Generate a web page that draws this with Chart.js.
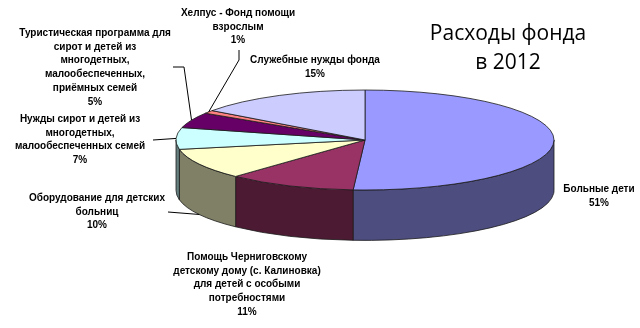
<!DOCTYPE html>
<html lang="ru">
<head>
<meta charset="utf-8">
<title>Расходы фонда в 2012</title>
<script src="https://cdn.jsdelivr.net/npm/chart.js@4.4.1/dist/chart.umd.min.js"></script>
<style>
    html, body { margin: 0; padding: 0; background: #fff; }
    #wrap { width: 640px; height: 328px; }
</style>
</head>
<body>
<div id="wrap"><canvas id="chart" width="640" height="328"></canvas></div>
<script>
// Данные диаграммы
const categories = [
    'Больные дети',
    'Помощь Черниговскому детскому дому (с. Калиновка) для детей с особыми потребностями',
    'Оборудование для детских больниц',
    'Нужды сирот и детей из многодетных, малообеспеченных семей',
    'Туристическая программа для сирот и детей из многодетных, малообеспеченных, приёмных семей',
    'Хелпус - Фонд помощи взрослым',
    'Служебные нужды фонда'
];
const values = [51, 11, 10, 7, 5, 1, 15];
const labelLines = [
    ['Больные дети'],
    ['Помощь Черниговскому', 'детскому дому (с. Калиновка)', 'для детей с особыми', 'потребностями'],
    ['Оборудование для детских', 'больниц'],
    ['Нужды сирот и детей из', 'многодетных,', 'малообеспеченных семей'],
    ['Туристическая программа для', 'сирот и детей из', 'многодетных,', 'малообеспеченных,', 'приёмных семей'],
    ['Хелпус - Фонд помощи', 'взрослым'],
    ['Служебные нужды фонда']
];
const titleLines = ['Расходы фонда', 'в 2012'];

// Цвета: верх и боковая грань
const topColors = ['#9999ff', '#993366', '#ffffcc', '#ccffff', '#660066', '#ff8080', '#ccccff'];
const sideColors = ['#4d4d80', '#4d1a33', '#808066', '#668080', '#330033', '#804040', '#666680'];

// Положение подписей (центр первой строки) и выноски
const labelLayout = [
    { x: 599, y: 189, line: null },
    { x: 247, y: 257, line: null },
    { x: 97, y: 198, line: [[168, 212]], depth: true },
    { x: 80, y: 119, line: [[153, 140]] },
    { x: 95, y: 33, line: [[173, 67], [184, 67]] },
    { x: 238, y: 13, line: [[239, 50], [239, 60]] },
    { x: 315, y: 60, line: null }
];

const SCALE_X = 1.35;  // растяжение эллипса по горизонтали
const TILT = 0.357;    // сжатие по вертикали
const DEPTH = 0.36;    // высота цилиндра относительно радиуса

function geometry(meta) {
    const arc = meta.data[0];
    const r = arc.outerRadius;
    return { cx: arc.x, cy: arc.y, rx: r * SCALE_X, ry: r * TILT, depth: r * DEPTH };
}

function pt(g, a, dy) {
    return [g.cx + g.rx * Math.cos(a), g.cy + g.ry * Math.sin(a) + (dy || 0)];
}

// Плагин псевдо-3D круговой диаграммы
const pie3d = {
    id: 'pie3d',
    beforeDatasetsDraw(chart) {
        const ctx = chart.ctx;
        const meta = chart.getDatasetMeta(0);
        const g = geometry(meta);
        ctx.save();
        ctx.lineWidth = 0.8;
        ctx.strokeStyle = '#1a1a1a';
        ctx.lineJoin = 'round';

        // Боковые грани (видна только передняя половина)
        meta.data.forEach((arc, i) => {
            const s = Math.max(arc.startAngle, 0);
            const e = Math.min(arc.endAngle, Math.PI);
            if (e <= s) return;
            const p0 = pt(g, s);
            const p1 = pt(g, e, g.depth);
            ctx.beginPath();
            ctx.moveTo(p0[0], p0[1]);
            ctx.ellipse(g.cx, g.cy, g.rx, g.ry, 0, s, e, false);
            ctx.lineTo(p1[0], p1[1]);
            ctx.ellipse(g.cx, g.cy + g.depth, g.rx, g.ry, 0, e, s, true);
            ctx.closePath();
            ctx.fillStyle = sideColors[i];
            ctx.fill();
            ctx.stroke();
        });

        // Верхние грани
        meta.data.forEach((arc, i) => {
            ctx.beginPath();
            ctx.moveTo(g.cx, g.cy);
            ctx.ellipse(g.cx, g.cy, g.rx, g.ry, 0, arc.startAngle, arc.endAngle, false);
            ctx.closePath();
            ctx.fillStyle = topColors[i];
            ctx.fill();
            ctx.stroke();
        });
        ctx.restore();
        return false;
    },
    afterDraw(chart) {
        const ctx = chart.ctx;
        const meta = chart.getDatasetMeta(0);
        const g = geometry(meta);
        ctx.save();

        // Выноски
        ctx.strokeStyle = '#000';
        ctx.lineWidth = 1;
        meta.data.forEach((arc, i) => {
            const lay = labelLayout[i];
            if (!lay.line) return;
            const mid = (arc.startAngle + arc.endAngle) / 2;
            const end = pt(g, mid, lay.depth ? g.depth : 0);
            ctx.beginPath();
            ctx.moveTo(lay.line[0][0], lay.line[0][1]);
            lay.line.slice(1).forEach(p => ctx.lineTo(p[0], p[1]));
            ctx.lineTo(end[0], end[1]);
            ctx.stroke();
        });

        // Подписи
        ctx.fillStyle = '#000';
        ctx.font = 'bold 10px "Liberation Sans", Arial, sans-serif';
        ctx.textAlign = 'center';
        ctx.textBaseline = 'middle';
        const total = values.reduce((a, b) => a + b, 0);
        labelLines.forEach((lines, i) => {
            const lay = labelLayout[i];
            const pct = Math.round(values[i] / total * 100) + '%';
            lines.concat([pct]).forEach((t, k) => {
                ctx.fillText(t, lay.x, lay.y + k * 13.8);
            });
        });

        // Заголовок
        ctx.font = '21px "Open Sans", sans-serif';
        titleLines.forEach((t, k) => {
            ctx.fillText(t, 508, 34 + k * 29);
        });
        ctx.restore();
    }
};

new Chart(document.getElementById('chart'), {
    type: 'pie',
    data: {
        labels: categories,
        datasets: [{
            data: values,
            backgroundColor: topColors,
            borderWidth: 0
        }]
    },
    options: {
        responsive: false,
        animation: false,
        events: [],
        layout: { padding: { left: 90, right: 0, top: 0, bottom: 48 } },
        plugins: {
            legend: { display: false },
            tooltip: { enabled: false },
            title: { display: false }
        }
    },
    plugins: [pie3d]
});
</script>
</body>
</html>
